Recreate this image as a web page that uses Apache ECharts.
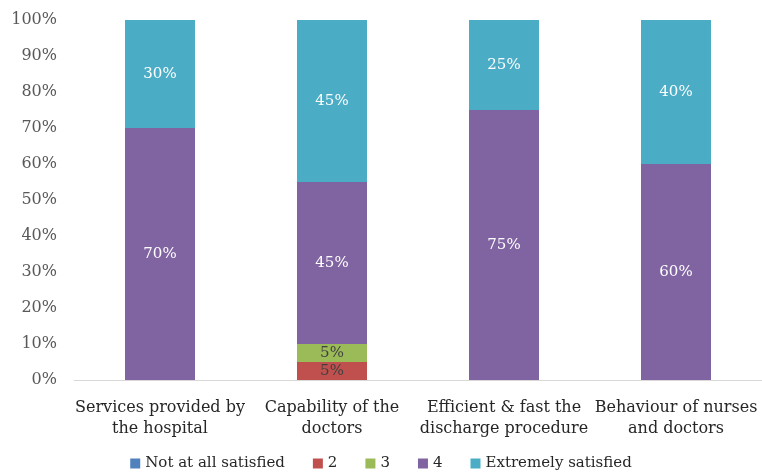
<!DOCTYPE html>
<html>
<head>
<meta charset="utf-8">
<script src="https://cdn.jsdelivr.net/npm/echarts@6/dist/echarts.min.js"></script>
<style>
  html, body { margin: 0; padding: 0; background: #fff; }
  #chart { width: 762px; height: 474px; }
</style>
</head>
<body>
<div id="chart"></div>
<script>
// Satisfaction survey, percentage of respondents per rating
const categories = [
  'Services provided by\nthe hospital',
  'Capability of the\ndoctors',
  'Efficient & fast the\ndischarge procedure',
  'Behaviour of nurses\nand doctors'
];
const notAtAll = [0, 0, 0, 0];
const rating2 = [0, 5, 0, 0];
const rating3 = [0, 5, 0, 0];
const rating4 = [70, 45, 75, 60];
const extremely = [30, 45, 25, 40];
const yTicks = [0, 10, 20, 30, 40, 50, 60, 70, 80, 90, 100];

const serif = '"DejaVu Serif", "Liberation Serif", serif';

function seriesOf(name, data, color, labelColor) {
  return {
    name: name,
    type: 'bar',
    stack: 'total',
    data: data,
    barWidth: 70,
    itemStyle: { color: color },
    label: {
      show: true,
      position: 'inside',
      color: labelColor,
      fontFamily: serif,
      fontSize: 15,
      formatter: p => (p.value > 0 ? p.value + '%' : '')
    }
  };
}

const chart = echarts.init(document.getElementById('chart'));
chart.setOption({
  animation: false,
  textStyle: { fontFamily: serif },
  grid: { left: 74, width: 694, top: 20, bottom: 94, containLabel: false },
  xAxis: {
    type: 'category',
    data: categories,
    axisLine: { lineStyle: { color: '#d9d9d9', width: 1 } },
    axisTick: { show: false },
    axisLabel: {
      color: '#262626',
      fontFamily: serif,
      fontSize: 16,
      lineHeight: 21,
      margin: 17,
      interval: 0
    }
  },
  yAxis: {
    type: 'value',
    min: yTicks[0],
    max: yTicks[yTicks.length - 1],
    interval: 10,
    axisLine: { show: false },
    axisTick: { show: false },
    splitLine: { show: false },
    axisLabel: {
      color: '#595959',
      fontFamily: serif,
      fontSize: 16,
      margin: 17,
      formatter: v => v + '%'
    }
  },
  legend: {
    bottom: -2,
    left: 'center',
    itemWidth: 10,
    itemHeight: 10,
    itemGap: 28,
    icon: 'rect',
    textStyle: { color: '#262626', fontFamily: serif, fontSize: 15 },
    data: ['Not at all satisfied', '2', '3', '4', 'Extremely satisfied']
  },
  series: [
    seriesOf('Not at all satisfied', notAtAll, '#4f81bd', '#ffffff'),
    seriesOf('2', rating2, '#c0504d', '#404040'),
    seriesOf('3', rating3, '#9bbb59', '#404040'),
    seriesOf('4', rating4, '#8064a2', '#ffffff'),
    seriesOf('Extremely satisfied', extremely, '#4bacc6', '#ffffff')
  ]
});
</script>
</body>
</html>
